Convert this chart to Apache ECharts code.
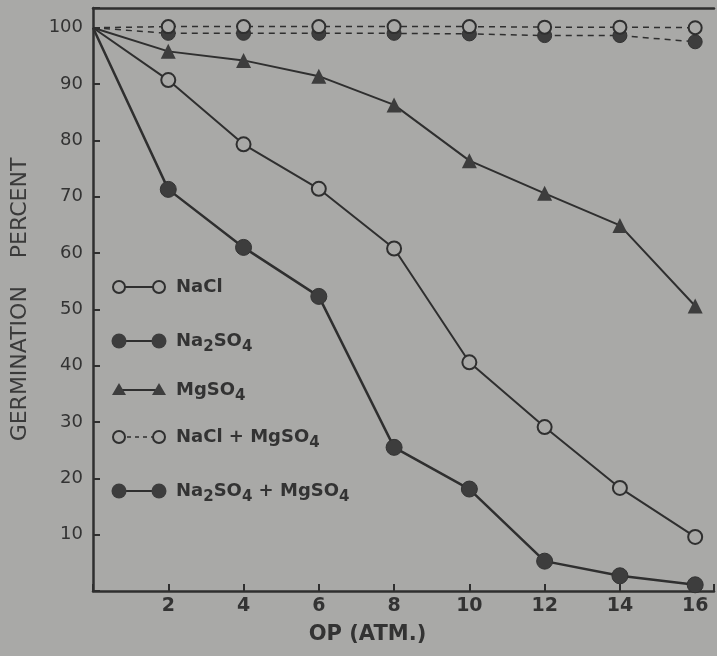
<!DOCTYPE html>
<html>
<head>
<meta charset="utf-8">
<script src="https://cdn.jsdelivr.net/npm/echarts@6/dist/echarts.min.js"></script>
<style>
  html, body { margin: 0; padding: 0; background: #a9a9a7; }
  #chart { width: 717px; height: 656px; }
</style>
</head>
<body>
<div id="chart"></div>
<script>
// OP (atm) on the x axis, germination percent per salt
const opAtm = [0, 2, 4, 6, 8, 10, 12, 14, 16]
const naCl = [100, 90.7, 79.3, 71.4, 60.8, 40.6, 29.1, 18.3, 9.6]
const na2so4 = [100, 71.3, 61.0, 52.3, 25.5, 18.1, 5.3, 2.7, 1.1]
const mgso4 = [100, 95.8, 94.2, 91.4, 86.3, 76.4, 70.6, 64.9, 50.6]
const naClMgso4 = [100, 100.2, 100.2, 100.2, 100.2, 100.2, 100.1, 100.1, 100]
const na2so4Mgso4 = [100, 99.0, 99.0, 99.0, 99.0, 98.9, 98.6, 98.6, 97.5]
const yTickLabels = [10, 20, 30, 40, 50, 60, 70, 80, 90, 100]
const xTickLabels = [2, 4, 6, 8, 10, 12, 14, 16]

const paper = '#a9a9a7'
const ink = '#2f2f2f'
const dot = '#3d3d3d'

// first point is the shared origin, drawn without a marker
const pts = (ys) => opAtm.map((x, i) => i === 0 ? { value: [x, ys[i]], symbol: 'none' } : [x, ys[i]])

const openCircle = { color: paper, borderColor: ink, borderWidth: 2 }
const filledCircle = { color: dot, borderColor: '#333', borderWidth: 1 }

const chart = echarts.init(document.getElementById('chart'))

const legendRow = (y, kind, dashed, text) => {
  const els = []
  const xs = [119, 159]
  els.push({ type: 'line', shape: { x1: xs[0], y1: y, x2: xs[1], y2: y },
    style: { stroke: ink, lineWidth: dashed ? 1.5 : 2, lineDash: dashed ? [4, 4] : null } })
  xs.forEach(x => {
    if (kind === 'tri') {
      els.push({ type: 'polygon', shape: { points: [[x, y - 7], [x - 7, y + 5], [x + 7, y + 5]] },
        style: { fill: dot } })
    } else {
      els.push({ type: 'circle', shape: { cx: x, cy: y, r: kind === 'open' ? 6 : 7.5 },
        style: kind === 'open' ? { fill: paper, stroke: ink, lineWidth: 2 } : { fill: dot } })
    }
  })
  els.push({ type: 'text', x: 176, y: y, style: {
    text: text, fill: '#333', font: 'bold 18px "DejaVu Sans"', verticalAlign: 'middle',
    rich: { s: { fontSize: 15, fontWeight: 'bold', fontFamily: 'DejaVu Sans', fill: '#333', padding: [12, 0, 0, 0] },
            n: { fontSize: 18, fontWeight: 'bold', fontFamily: 'DejaVu Sans', fill: '#333' } }
  } })
  return els
}

const option = {
  backgroundColor: paper,
  animation: false,
  grid: { left: 93, top: 8, right: 0, bottom: 65 },
  xAxis: [{
    type: 'value', min: 0, max: 16.5, interval: 2,
    name: 'OP (ATM.)', nameLocation: 'middle', nameGap: 33,
    nameTextStyle: { color: '#333', fontSize: 21, fontWeight: 'bold', fontFamily: 'DejaVu Sans', padding: [0, 72, 0, 0] },
    axisLine: { lineStyle: { color: ink, width: 2.5 } },
    axisTick: { inside: true, length: 7, lineStyle: { color: ink, width: 2 } },
    axisLabel: { margin: 6, color: '#333', fontSize: 19, fontWeight: 'bold', fontFamily: 'DejaVu Sans',
      formatter: v => xTickLabels.includes(v) ? String(v) : '' },
    splitLine: { show: false }
  }, {
    type: 'value', position: 'top', min: 0, max: 16.5,
    axisLine: { show: true, lineStyle: { color: ink, width: 2.5 } },
    axisTick: { show: false }, axisLabel: { show: false }, splitLine: { show: false }
  }],
  yAxis: {
    type: 'value', min: 0, max: 103.5, interval: 10,
    name: 'GERMINATION    PERCENT', nameLocation: 'middle', nameGap: 62, nameRotate: 90,
    nameTextStyle: { color: '#3a3a3a', fontSize: 22, fontFamily: 'DejaVu Sans' },
    axisLine: { show: true, lineStyle: { color: ink, width: 2.5 } },
    axisTick: { inside: true, length: 7, lineStyle: { color: ink, width: 2 } },
    axisLabel: { margin: 10, color: '#333', fontSize: 18, fontFamily: 'DejaVu Sans',
      formatter: v => yTickLabels.includes(v) ? String(v) : '' },
    splitLine: { show: false }
  },
  series: [
    { name: 'NaCl + MgSO4', type: 'line', data: pts(naClMgso4), symbol: 'circle', symbolSize: 13,
      lineStyle: { color: ink, width: 1.5, type: [6, 5] }, itemStyle: openCircle, z: 3 },
    { name: 'Na2SO4 + MgSO4', type: 'line', data: pts(na2so4Mgso4), symbol: 'circle', symbolSize: 14,
      lineStyle: { color: ink, width: 1.5, type: [6, 5] }, itemStyle: filledCircle, z: 2 },
    { name: 'MgSO4', type: 'line', data: pts(mgso4), symbol: 'triangle', symbolSize: 15,
      lineStyle: { color: ink, width: 2 }, itemStyle: { color: dot } },
    { name: 'NaCl', type: 'line', data: pts(naCl), symbol: 'circle', symbolSize: 14,
      lineStyle: { color: ink, width: 2 }, itemStyle: openCircle },
    { name: 'Na2SO4', type: 'line', data: pts(na2so4), symbol: 'circle', symbolSize: 16,
      lineStyle: { color: ink, width: 2.5 }, itemStyle: filledCircle }
  ],
  graphic: [].concat(
    legendRow(287, 'open', false, '{n|NaCl}'),
    legendRow(341, 'filled', false, '{n|Na}{s|2}{n|SO}{s|4}'),
    legendRow(390, 'tri', false, '{n|MgSO}{s|4}'),
    legendRow(437, 'open', true, '{n|NaCl + MgSO}{s|4}'),
    legendRow(491, 'filled', false, '{n|Na}{s|2}{n|SO}{s|4}{n| + MgSO}{s|4}')
  )
}

chart.setOption(option)
</script>
</body>
</html>
